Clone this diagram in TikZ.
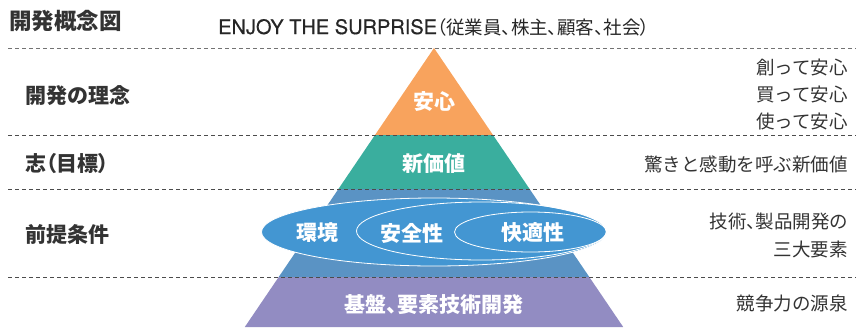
\documentclass[tikz,border=0pt]{standalone}
\usepackage{fontspec}
\setmainfont{Noto Sans CJK JP}
\newfontfamily\jpp{Noto Sans CJK JP}[RawFeature=+palt]
\newfontfamily\heros{TeX Gyre Heros}[FakeBold=0.5]
\definecolor{cOrange}{HTML}{F8A35D}
\definecolor{cTeal}{HTML}{3AAE9E}
\definecolor{cSlab}{HTML}{5A93C4}
\definecolor{cEll}{HTML}{4396D2}
\definecolor{cPurple}{HTML}{928CC2}
\definecolor{cText}{HTML}{333333}
\tikzset{
  sep/.style={draw=black!70, line width=0.8pt, dash pattern=on 4pt off 3pt},
  leftlab/.style={anchor=west, inner sep=0pt, text=cText, font=\fontsize{21}{25}\selectfont\bfseries},
  rightlab/.style={anchor=east, inner sep=0pt, text=cText, font=\fontsize{18.5}{22}\selectfont},
  pyrlab/.style={inner sep=0pt, text=white, font=\fontsize{21}{25}\selectfont\bfseries},
  ell/.style={draw=white, line width=0.8pt}
}
\begin{document}
\begin{tikzpicture}[x=1pt,y=-1pt]
\useasboundingbox (0,0) rectangle (856,327);
% pyramid layers
\fill[cOrange] (434,48) -- (493,135) -- (375,135) -- cycle;
\fill[cTeal] (375,135) -- (493,135) -- (529.6,189) -- (338.4,189) -- cycle;
\fill[cSlab] (338.4,189) -- (529.6,189) -- (589.3,277) -- (278.7,277) -- cycle;
\fill[cPurple] (278.7,277) -- (589.3,277) -- (623.2,327) -- (244.8,327) -- cycle;
% ellipses
\filldraw[ell, fill=cEll] (434,232) ellipse [x radius=172.5, y radius=34];
\draw[ell] (481.5,231) ellipse [x radius=125, y radius=29];
\draw[ell] (530.5,232) ellipse [x radius=76, y radius=20];
% separators
\coordinate (s0a) at (8,48); \coordinate (s0b) at (856,48);
\coordinate (s1a) at (8,135); \coordinate (s1b) at (856,135);
\coordinate (s2a) at (8,189); \coordinate (s2b) at (856,189);
\coordinate (s3a) at (8,277); \coordinate (s3b) at (856,277);
\draw[sep, draw=black!55] (s0a) -- (s0b);
\draw[sep] (s1a) -- (s1b);
\draw[sep] (s2a) -- (s2b);
\draw[sep] (s3a) -- (s3b);
% header
\node[anchor=west, inner sep=0pt, text=cText, font=\fontsize{22.5}{26}\selectfont\bfseries] (head) at (9,21) {開発概念図};
\node[anchor=west, inner sep=0pt, text=black!85] (motto) at (218,27) {{\heros\fontsize{20}{24}\selectfont ENJOY THE SURPRISE}{\jpp\fontsize{18.5}{22}\selectfont （従業員、株主、顧客、社会）}};
% left labels
\node[leftlab] (l1) at (25,96) {開発の理念};
\node[leftlab] (l2) at (25,164) {志{\jpp （}目標{\jpp ）}};
\node[leftlab] (l3) at (25,234) {前提条件};
% pyramid labels
\node[pyrlab] (p1) at (434,102) {安心};
\node[pyrlab] (p2) at (434,164) {新価値};
\node[pyrlab] (e1) at (317,233) {環境};
\node[pyrlab] (e2) at (412,233) {安全性};
\node[pyrlab] (e3) at (533,233) {快適性};
\node[pyrlab] (p4) at (434,305) {\jpp 基盤、要素技術開発};
% right labels
\node[rightlab] (r1) at (848,67) {創って安心};
\node[rightlab] (r2) at (848,94) {買って安心};
\node[rightlab] (r3) at (848,121) {使って安心};
\node[rightlab] (r4) at (848,164) {驚きと感動を呼ぶ新価値};
\node[rightlab] (r5) at (848,222) {\jpp 技術、製品開発の};
\node[rightlab] (r6) at (848,249) {三大要素};
\node[rightlab] (r7) at (848,303) {競争力の源泉};
\end{tikzpicture}
\end{document}
